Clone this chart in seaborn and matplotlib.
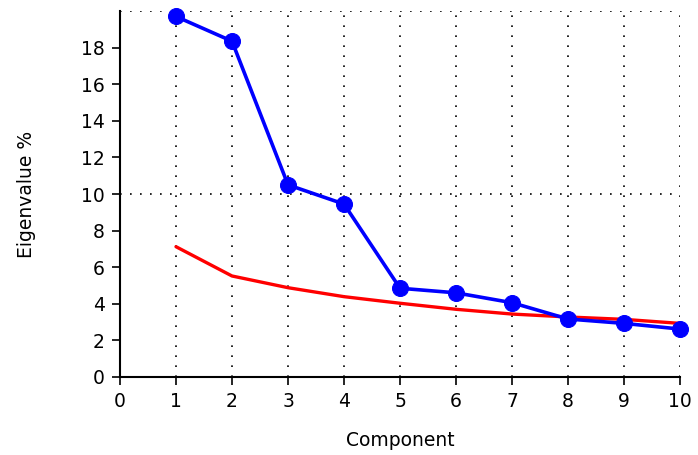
import pandas as pd
import matplotlib
matplotlib.use("Agg")
import matplotlib.pyplot as plt
import seaborn as sns

# values
components = [1, 2, 3, 4, 5, 6, 7, 8, 9, 10]
eigenvalue_pct = [19.7, 18.35, 10.5, 9.45, 4.85, 4.6, 4.06, 3.17, 2.93, 2.62]
broken_stick = [7.12, 5.52, 4.88, 4.39, 4.03, 3.70, 3.44, 3.28, 3.15, 2.93]
x_ticks = [0, 1, 2, 3, 4, 5, 6, 7, 8, 9, 10]
y_ticks = [0, 2, 4, 6, 8, 10, 12, 14, 16, 18]


def make_plot():
    sns.set_style("white")
    plt.rcParams['font.family'] = ['DejaVu Sans']
    plt.rcParams['text.color'] = 'black'
    plt.rcParams['axes.labelcolor'] = 'black'
    plt.rcParams['xtick.color'] = 'black'
    plt.rcParams['ytick.color'] = 'black'

    df = pd.DataFrame({'component': components,
                       'eigen': eigenvalue_pct,
                       'stick': broken_stick})

    fig = plt.figure(figsize=(6.98, 4.55), dpi=100)
    ax = fig.add_axes([120 / 698, 1 - 377 / 455, 560 / 698, 366 / 455])

    # grid: verticals at every component, horizontals at 10 and 20
    for xv in components:
        ax.axvline(xv, color='black', lw=1.2, ls=(0, (1, 5)), zorder=0)
    for yv in [10, 20]:
        ax.axhline(yv, color='black', lw=1.2, ls=(0, (1, 5)), zorder=0)

    sns.lineplot(data=df, x='component', y='stick', ax=ax, color='#ff0000',
                 lw=2.4, zorder=2)
    sns.lineplot(data=df, x='component', y='eigen', ax=ax, color='#0000ff',
                 lw=2.6, marker='o', markersize=11.5, markeredgecolor='#0000ff',
                 zorder=3, clip_on=False)

    ax.set_xlim(0, 10)
    ax.set_ylim(0, 20)
    ax.set_xticks(x_ticks)
    ax.set_yticks(y_ticks)
    ax.tick_params(direction='out', length=6, width=1.2, labelsize=13.5,
                   color='black', labelcolor='black', left=True, bottom=True, pad=5)
    for s in ['top', 'right']:
        ax.spines[s].set_visible(False)
    for s in ['left', 'bottom']:
        ax.spines[s].set_color('black')
        ax.spines[s].set_linewidth(1.5)

    ax.set_xlabel('Component', fontsize=13.5, labelpad=14, color='black')
    ax.set_ylabel('Eigenvalue %', fontsize=13.5, labelpad=32, color='black')

    fig.savefig('out.png', dpi=100)


if __name__ == "__main__":
    make_plot()
